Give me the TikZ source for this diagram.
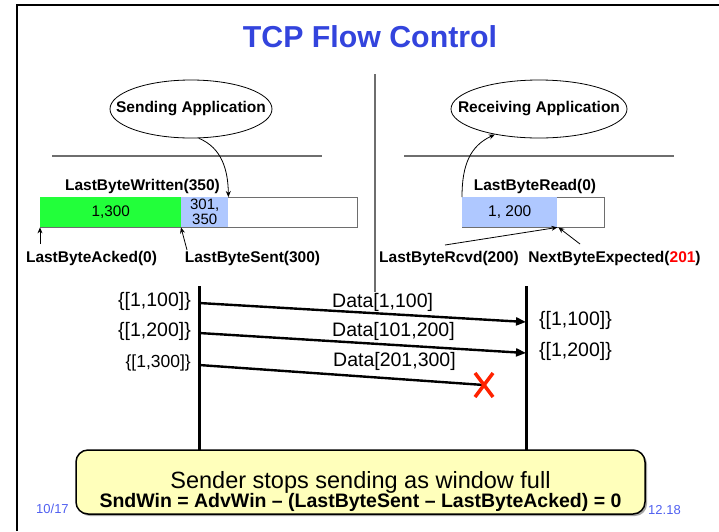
\documentclass[tikz,border=0pt]{standalone}
\usepackage{fontspec}
\setmainfont{Liberation Sans}
\usetikzlibrary{arrows.meta,shapes.geometric,calc,shadows}

\definecolor{titleblue}{RGB}{51,68,221}
\definecolor{footblue}{RGB}{80,96,240}
\definecolor{ackgreen}{RGB}{34,255,58}
\definecolor{sentblue}{RGB}{175,200,255}
\definecolor{noteyellow}{RGB}{255,255,187}
\definecolor{xred}{RGB}{255,34,0}
\definecolor{rulegray}{RGB}{110,110,110}

\newcommand\fsz[1]{\fontsize{#1}{#1}\selectfont}

\begin{document}
\begin{tikzpicture}[x=1pt,y=-1pt,
  lbl/.style={font=\fsz{15.5}\bfseries, inner sep=0pt},
  seq/.style={font=\fsz{19.5}, inner sep=0pt},
  app/.style={ellipse, draw, line width=0.8pt, minimum width=162pt, minimum height=58pt, inner sep=0pt},
  buf/.style={draw=rulegray, line width=1pt, minimum height=30pt, inner sep=0pt, anchor=north west},
  part/.style={minimum height=30pt, inner sep=0pt, anchor=north west},
  thinarrow/.style={-{Stealth[length=6pt,width=5pt]}, line width=0.8pt},
  msg/.style={-{Triangle[length=10pt,width=8pt]}, line width=2.4pt},
  timeline/.style={line width=3pt},
  rule/.style={draw=rulegray, line width=1.3pt},
  foot/.style={font=\fsz{13}, text=footblue, inner sep=0pt, anchor=base west}]

\useasboundingbox (0,0) rectangle (719,531);

% slide frame
\draw[line width=2.5pt] (17,531) -- (17,5) -- (719,5);

% title
\node[font=\fsz{30.3}\bfseries, text=titleblue, inner sep=0pt, anchor=base] (title) at (370,47) {TCP Flow Control};

% separators
\draw[rule] (375,74) -- (375,292);
\draw[rule] (52,156) -- (322,156);
\draw[rule] (404,156) -- (674,156);

% applications
\node[app] (sendapp) at (191,109) {};
\node[lbl] at (sendapp.center) {Sending Application};
\node[app, minimum width=176pt] (recvapp) at (539,109) {};
\node[lbl] at (recvapp.center) {Receiving Application};

% sender buffer
\node[buf, minimum width=317pt] (sbuf) at (40,197) {};
\node[part, fill=ackgreen, minimum width=141pt, font=\fsz{15.3}] (sacked) at (40,197) {1,300};
\node[part, fill=sentblue, minimum width=47pt, font=\fsz{15}, align=center] (ssent) at (181,197)
  {\fsz{15}301,\\[0pt]350};

% receiver buffer
\node[buf, minimum width=142pt] (rbuf) at (462,197) {};
\node[part, fill=sentblue, minimum width=95pt, font=\fsz{15.5}] (rrcvd) at (462,197) {1, 200};

% pointer labels
\node[lbl] (wrlbl) at (142.5,186) {LastByteWritten(350)};
\node[lbl] (acklbl) at (91.5,258) {LastByteAcked(0)};
\node[lbl] (sentlbl) at (252.5,258) {LastByteSent(300)};
\node[lbl] (rdlbl) at (535,186) {LastByteRead(0)};
\node[lbl] (rcvdlbl) at (449,258) {LastByteRcvd(200)};
\node[lbl] (explbl) at (614.5,258) {NextByteExpected({\color{red}201})};

\coordinate (ackfrom) at (40,244);
\coordinate (sentfrom) at (187,250);
\coordinate (rcvdfrom) at (445,245);
\coordinate (expfrom) at (580,244);

\draw[thinarrow] (sendapp.285) .. controls (222,148) and (228,170) .. (ssent.north east);
\draw[thinarrow] (rrcvd.north west) .. controls (462,165) and (470,146) .. (recvapp.210);
\draw[thinarrow] (ackfrom) -- (sacked.south west);
\draw[thinarrow] (sentfrom) -- (ssent.south west);
\draw[thinarrow] (rcvdfrom) -- (rrcvd.south east);
\draw[thinarrow] (expfrom) -- ($(rrcvd.south east)+(1,0)$);

% time lines
\coordinate (sTop) at (199,286);
\coordinate (sBot) at (199,452);
\coordinate (rTop) at (526,286);
\coordinate (rBot) at (526,452);
\draw[timeline] (sTop) -- (sBot);
\draw[timeline] (rTop) -- (rBot);

% segments
\coordinate (s1) at (199,303);
\coordinate (r1) at (526,322);
\coordinate (s2) at (199,333);
\coordinate (r2) at (526,353);
\coordinate (s3) at (199,365);
\node[inner sep=0pt, minimum size=20pt] (lost) at (484,385) {};

\draw[msg] (s1) -- (r1);
\draw[msg] (s2) -- (r2);
\draw[line width=2.4pt] (s3) -- (lost.center);
\draw[xred, line width=3.5pt] ($(lost.center)+(-9,-12)$) -- ($(lost.center)+(9,12)$);
\draw[xred, line width=3.5pt] ($(lost.center)+(9,-12)$) -- ($(lost.center)+(-9,12)$);

\node[seq, anchor=base west] (d1) at (332,307) {Data[1,100]};
\node[seq, anchor=base west] (d2) at (332,336) {Data[101,200]};
\node[seq, anchor=base west] (d3) at (333,366) {Data[201,300]};

\node[seq, anchor=east] (sw1) at (191,301) {\{[1,100]\}};
\node[seq, anchor=east] (sw2) at (191,331) {\{[1,200]\}};
\node[seq, anchor=east, font=\fsz{17.5}] (sw3) at (191,363) {\{[1,300]\}};
\node[seq, anchor=west] (rw1) at (539,320) {\{[1,100]\}};
\node[seq, anchor=west] (rw2) at (539,351) {\{[1,200]\}};

% footer
\node[foot] (fl) at (36,513) {10/17};
\node[foot] (fr) at (648,514) {12.18};

% note
\node[draw, line width=1.5pt, rounded corners=12pt, fill=noteyellow,
      minimum width=569pt, minimum height=64pt,
      drop shadow={shadow xshift=2pt, shadow yshift=-2pt, opacity=0.7}] (note) at (360.5,482) {};
\node[font=\fsz{23.5}, inner sep=0pt, anchor=base] (n1) at (360.5,488) {Sender stops sending as window full};
\node[font=\fsz{19.5}\bfseries, inner sep=0pt, anchor=base] (n2) at (360.5,507)
  {SndWin = AdvWin – (LastByteSent – LastByteAcked) = 0};

\end{tikzpicture}
\end{document}
